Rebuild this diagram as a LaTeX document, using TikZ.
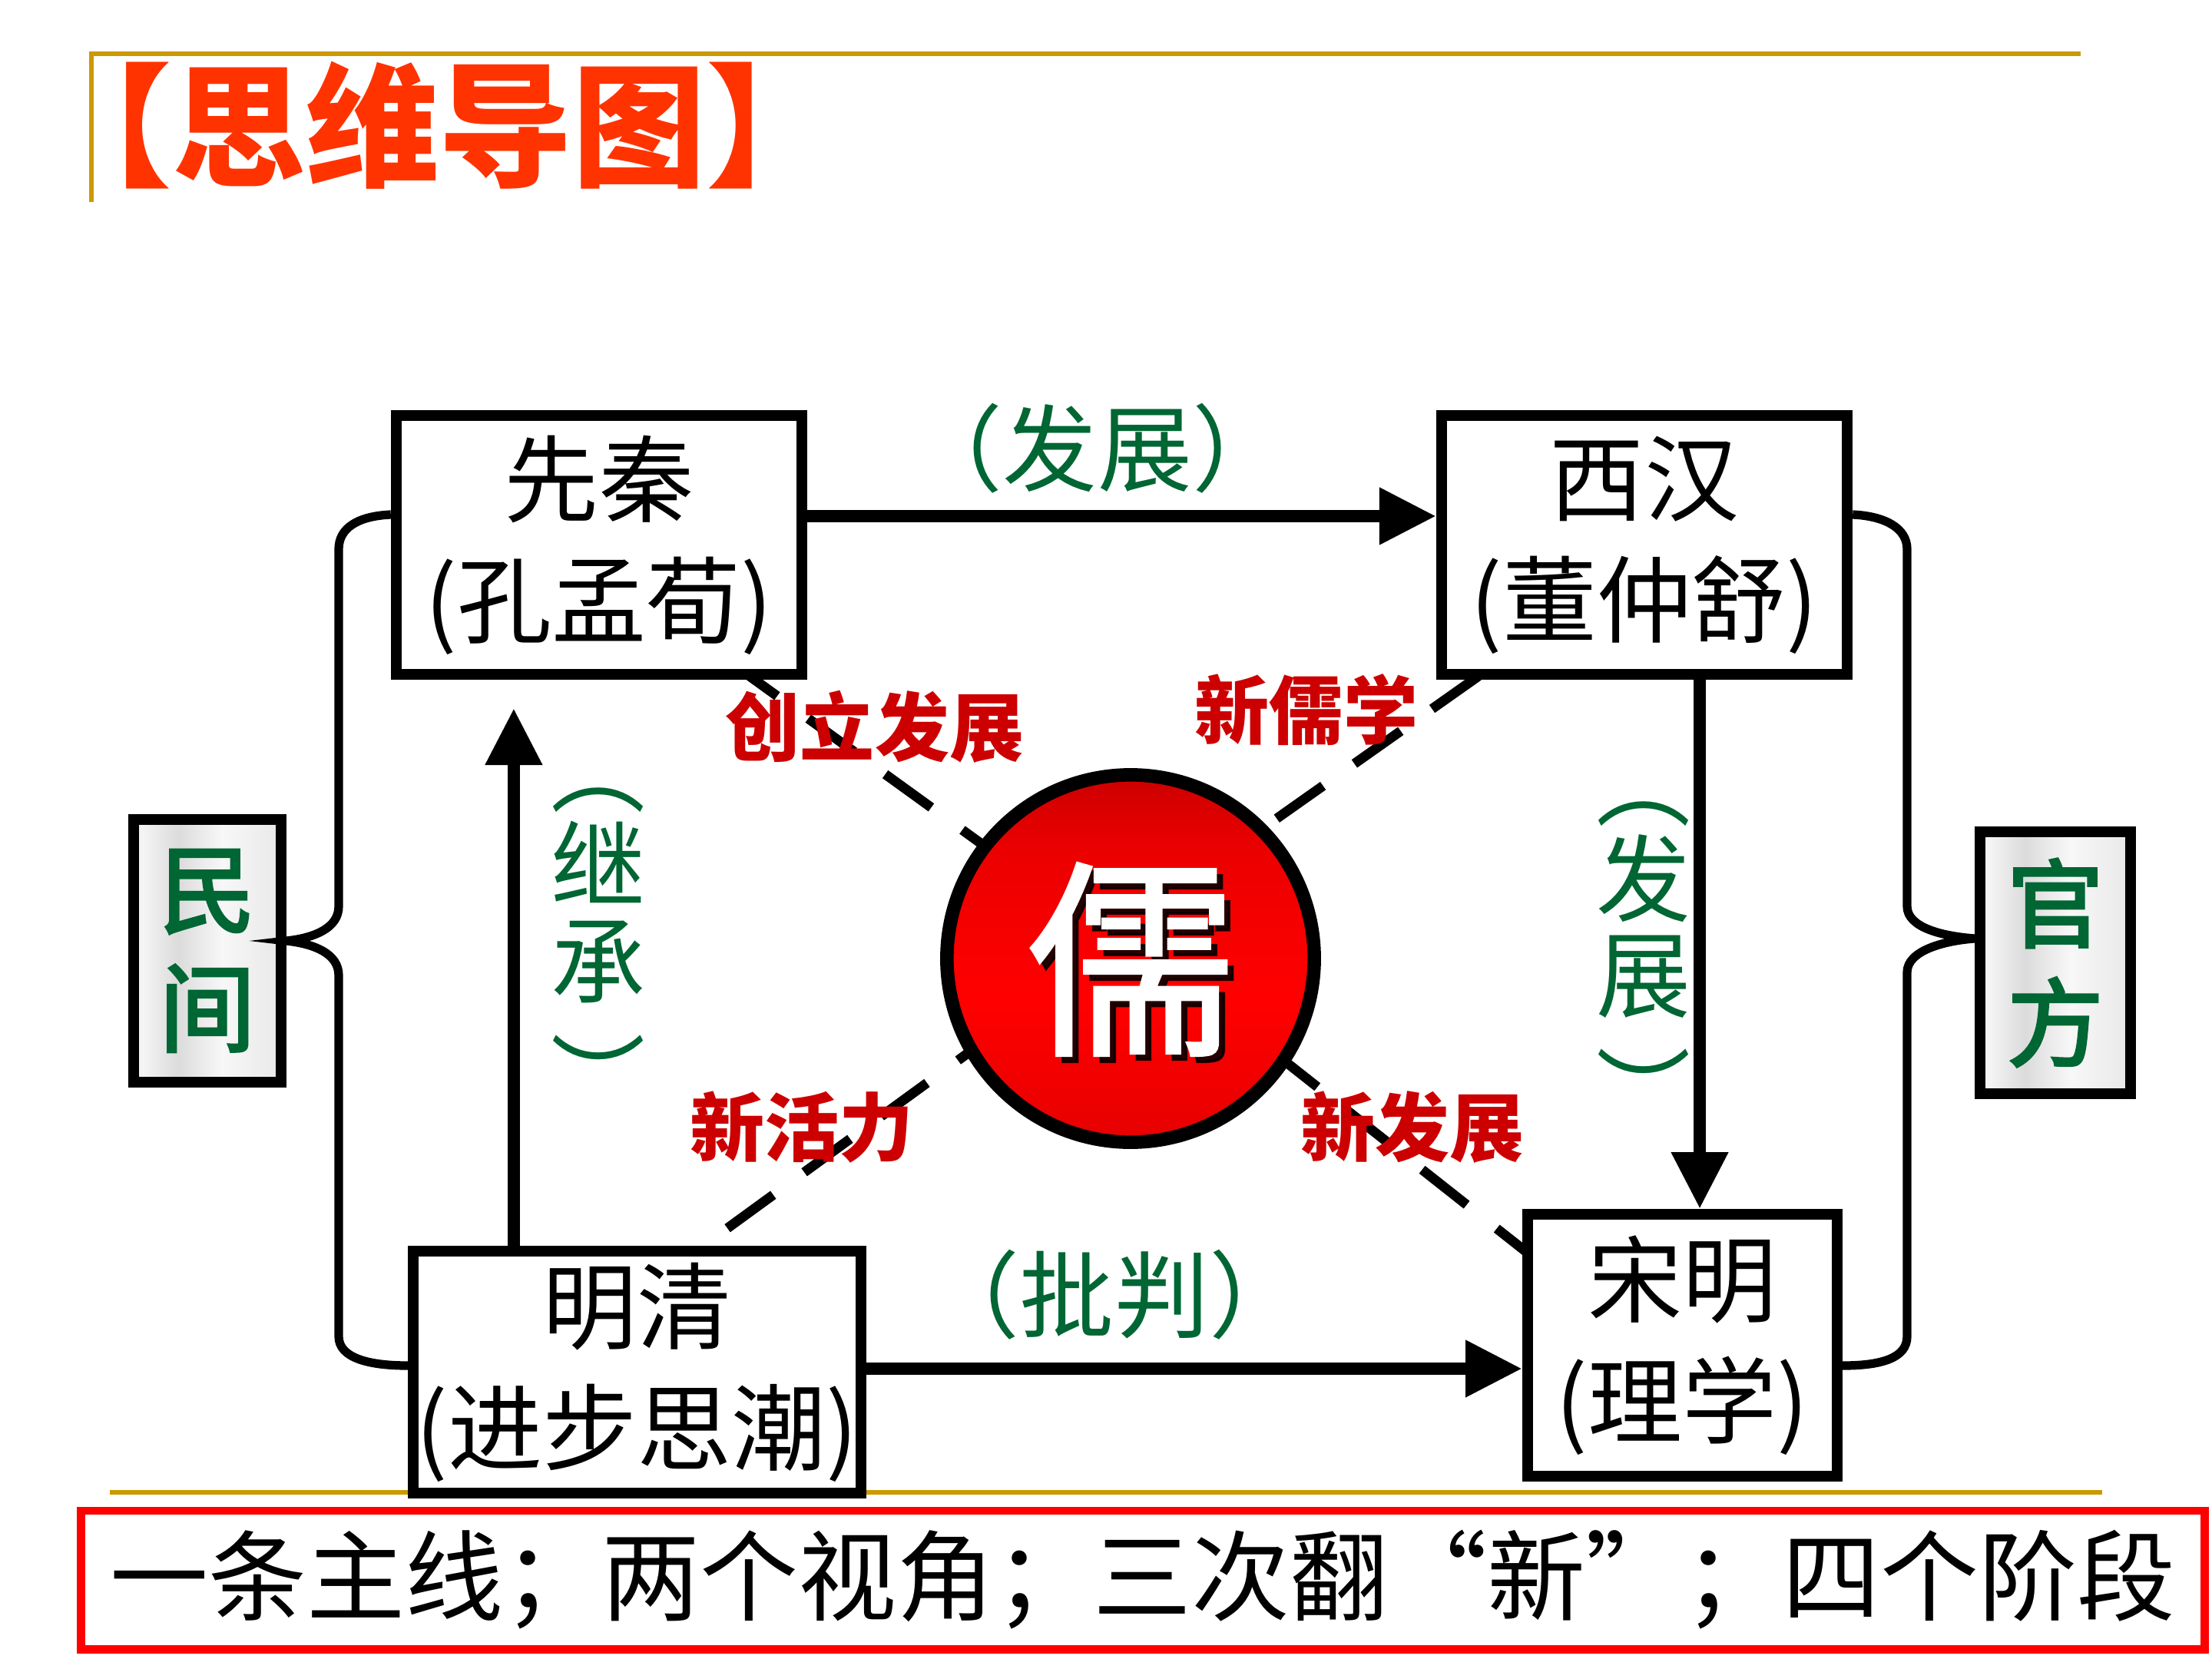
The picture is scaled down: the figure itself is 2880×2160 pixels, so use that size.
\documentclass[tikz,border=0pt]{standalone}
\usepackage{fontspec}
\setmainfont{Noto Sans CJK SC}
\newfontfamily\cjkmed[FakeBold=1.2]{Noto Sans CJK SC}
\newfontfamily\cjksemi[FakeBold=3]{Noto Sans CJK SC}
\usetikzlibrary{arrows.meta,calc}
\definecolor{titlered}{RGB}{255,51,0}
\definecolor{labred}{RGB}{204,0,0}
\definecolor{lgreen}{RGB}{0,102,51}
\definecolor{gold}{RGB}{204,153,0}
\pgfdeclarehorizontalshading{metal}{100bp}{color(0bp)=(black!50); color(12bp)=(black!22); color(28bp)=(black!4); color(40bp)=(black!14); color(55bp)=(black!3); color(72bp)=(black!8); color(88bp)=(black!35); color(100bp)=(black!58)}
\pgfdeclareverticalshading{redball}{100bp}{color(0bp)=(red!65!black); color(20bp)=(red!88!black); color(45bp)=(red); color(65bp)=(red!92!black); color(100bp)=(red!50!black)}
\tikzset{
  period/.style={draw, line width=4pt, fill=white, rectangle, inner sep=0pt, align=center, font=\fontsize{35}{45}\selectfont},
  sidebox/.style={draw, line width=4pt, shade, shading=metal, rectangle, inner sep=0pt, align=center, text=lgreen, font=\cjksemi\fontsize{35.5}{44}\selectfont},
  flow/.style={line width=4.6pt, -{Triangle[length=21pt,width=20pt]}},
  dashline/.style={line width=3.6pt, dash pattern=on 21pt off 14.2pt},
  bracel/.style={line width=3.2pt},
  greenlab/.style={text=lgreen, font=\fontsize{35}{35.5}\selectfont, inner sep=0pt, align=center},
  redlab/.style={text=labred, font=\fontsize{27.6}{30}\selectfont\bfseries, inner sep=0pt},
  goldline/.style={draw=gold, line width=1.7pt},
}
\begin{document}
\begin{tikzpicture}[x=0.01cm,y=-0.01cm]
\useasboundingbox (0,0) rectangle (2880,2160);
% gold frame lines
\coordinate (g1) at (119,70); \coordinate (g2) at (2709,70); \coordinate (g3) at (119,263);
\draw[goldline] (g3) -- (g1) -- (g2);
\coordinate (g4) at (143,1943); \coordinate (g5) at (2737,1943);
\draw[goldline] (g4) -- (g5);
% title
\node[text=titlered, font=\fontsize{49.4}{49.4}\selectfont\bfseries, inner sep=0pt] (title) at (572,163) {【思维导图】};
% summary box
\node[draw=red, line width=3.1pt, rectangle, inner sep=0pt, minimum width=27.63cm, minimum height=1.80cm, font=\fontsize{36.4}{40}\selectfont] (summary) at (1488,2057) {一条主线；两个视角；三次翻“新”；四个阶段};
% dashed lines
\coordinate (d1s) at (952,863);  \coordinate (d1e) at (1472,1239);
\coordinate (d2s) at (2026,809); \coordinate (d2e) at (1472,1200);
\coordinate (d3s) at (847,1672); \coordinate (d3e) at (1472,1217);
\coordinate (d4s) at (1463,1216); \coordinate (d4e) at (2100,1719);
\draw[dashline] (d1s) -- (d1e);
\draw[dashline] (d2s) -- (d2e);
\draw[dashline] (d3s) -- (d3e);
\draw[dashline] (d4s) -- (d4e);
% central circle
\node[circle, draw=black, line width=5pt, shade, shading=redball, minimum size=4.78cm, inner sep=0pt] (ru) at (1472,1248) {};
\node[text=black, opacity=0.85, font=\cjkmed\fontsize{78}{78}\selectfont, inner sep=0pt] (rushadow) at (1480,1257) {儒};
\node[text=white, font=\cjkmed\fontsize{78}{78}\selectfont, inner sep=0pt] (rutext) at (1472,1249) {儒};
% period boxes
\node[period, minimum width=5.28cm, minimum height=3.37cm] (xianqin) at (780,709.5) {先秦\\(孔孟荀)};
\node[period, minimum width=5.28cm, minimum height=3.37cm] (xihan) at (2141,709.5) {西汉\\(董仲舒)};
\node[period, minimum width=5.83cm, minimum height=3.15cm] (mingqing) at (829.5,1786.5) {明清\\(进步思潮)};
\node[period, minimum width=4.03cm, minimum height=3.41cm] (songming) at (2190.5,1751.5) {宋明\\(理学)};
% side boxes
\node[sidebox, minimum width=1.92cm, minimum height=3.42cm] (minjian) at (270,1238) {民\\间};
\node[sidebox, minimum width=1.96cm, minimum height=3.41cm] (guanfang) at (2676,1253.5) {官\\方};
% brackets
\coordinate (lbA) at ([yshift=3.95mm]xianqin.west);
\coordinate (lbTip) at ([yshift=1.3mm]minjian.east);
\coordinate (lbB) at ([yshift=0.85mm]mingqing.west);
\draw[bracel] (lbA) .. controls (465,672) and (441,688) .. (441,715) -- (441,1180) .. controls (441,1208) and (410,1221) .. (lbTip) .. controls (410,1229) and (441,1242) .. (441,1270) -- (441,1740) .. controls (441,1768) and (480,1778) .. (lbB);
\coordinate (rbA) at ([yshift=3.95mm]xihan.east);
\coordinate (rbTip) at ([yshift=3.15mm]guanfang.west);
\coordinate (rbB) at ([yshift=-2.65mm]songming.east);
\draw[bracel] (rbA) .. controls (2455,672) and (2483,688) .. (2483,715) -- (2483,1180) .. controls (2483,1208) and (2530,1219) .. (rbTip) .. controls (2530,1225) and (2483,1238) .. (2483,1266) -- (2483,1740) .. controls (2483,1768) and (2450,1778) .. (rbB);
% arrows
\draw[flow] ([yshift=3.75mm]xianqin.east) -- ([yshift=3.75mm]xihan.west);
\draw[flow] ([xshift=7.2mm]xihan.south) -- ([xshift=7.2mm]xihan.south |- songming.north);
\draw[flow] ([yshift=0.45mm]mingqing.east) -- ([yshift=0.45mm]mingqing.east -| songming.west);
\draw[flow] ([xshift=-16.05mm]mingqing.north) -- ([xshift=-16.05mm,yshift=-3.7mm]mingqing.north |- xianqin.south);
% green labels
\node[greenlab] (l1) at (1429,584) {（发展）};
\node[greenlab] (l2) at (779,1238) {︵\\继\\承\\[8pt]︶};
\node[greenlab] (l3) at (2140,1256) {︵\\发\\展\\[8pt]︶};
\node[greenlab] (l4) at (1451,1686) {（批判）};
% red labels
\node[redlab] (r1) at (1139,946) {创立发展};
\node[redlab] (r2) at (1701,924) {新儒学};
\node[redlab] (r3) at (1044,1468) {新活力};
\node[redlab] (r4) at (1839,1468) {新发展};
\end{tikzpicture}
\end{document}
